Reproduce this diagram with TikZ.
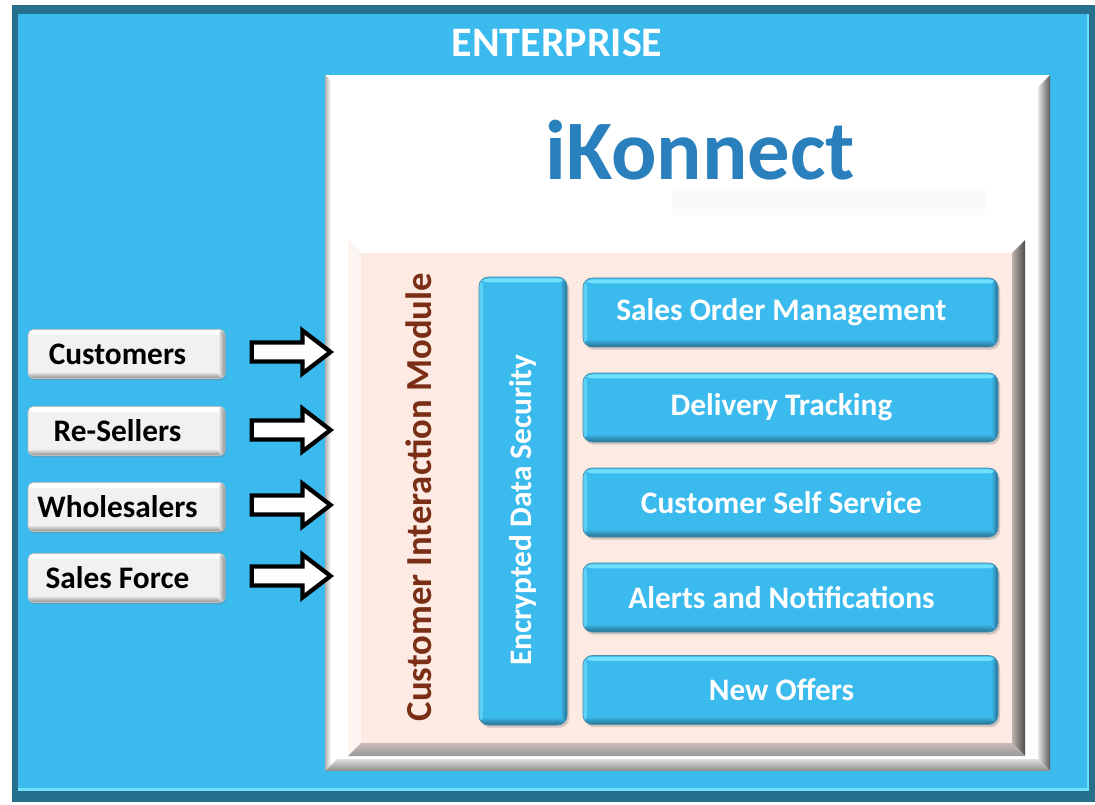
\documentclass[tikz,border=0pt]{standalone}
\usepackage{fontspec}
\setmainfont{Carlito}
\usetikzlibrary{shapes.arrows,shadows}

\definecolor{entblue}{RGB}{59,186,238}
\definecolor{entdark}{RGB}{38,112,142}
\definecolor{entlight}{RGB}{112,224,252}
\definecolor{konblue}{RGB}{42,128,189}
\definecolor{modpink}{RGB}{252,234,227}
\definecolor{modbrown}{RGB}{122,46,22}
\definecolor{btngray}{RGB}{243,241,239}

\tikzset{
  bodyfont/.style={font=\fontsize{23.5}{28}\selectfont\bfseries},
  leftpad/.style={execute at end node={\hspace*{13.5pt}}},
  modbox/.style={rectangle, rounded corners=7pt, fill=entblue, draw=entdark!80, line width=0.5pt,
    text=white, bodyfont, inner sep=0pt,
    drop shadow={shadow xshift=1.5pt, shadow yshift=-2pt, opacity=0.35},
    path picture={
      \fill[entlight] ([yshift=-1pt]path picture bounding box.north west) rectangle ([yshift=-4pt]path picture bounding box.north east);
      \fill[entlight!60!entblue] (path picture bounding box.north west) rectangle ([xshift=3pt]path picture bounding box.south west);
      \shade[top color=entblue, bottom color=entdark] ([yshift=6pt]path picture bounding box.south west) rectangle (path picture bounding box.south east);
      \shade[left color=entblue, right color=entdark] ([xshift=-5pt]path picture bounding box.north east) rectangle (path picture bounding box.south east);
    }},
  sidebtn/.style={rectangle, rounded corners=4pt, fill=btngray, draw=black!25, line width=0.4pt,
    text=black, bodyfont, inner sep=0pt, minimum width=147.75pt, minimum height=36.75pt, leftpad,
    drop shadow={shadow xshift=1pt, shadow yshift=-1.5pt, opacity=0.3},
    path picture={
      \fill[white] (path picture bounding box.north west) rectangle ([yshift=-4pt]path picture bounding box.north east);
      \shade[top color=btngray, bottom color=black!45] ([yshift=5pt]path picture bounding box.south west) rectangle (path picture bounding box.south east);
      \shade[left color=btngray, right color=black!45] ([xshift=-5pt]path picture bounding box.north east) rectangle (path picture bounding box.south east);
    }},
  blockarrow/.style={single arrow, draw=black, fill=white, line width=3.2pt, minimum height=59pt,
    minimum width=29pt, inner sep=0pt, inner ysep=5.5pt, single arrow head extend=9pt,
    single arrow tip angle=75}
}

\begin{document}
\begin{tikzpicture}[x=0.75pt,y=-0.75pt]
\useasboundingbox (0,0) rectangle (1095,805);

% enterprise frame
\fill[entdark] (12,5) rectangle (1095,802);
\fill[entlight] (18,14) rectangle (1089,791);
\fill[entblue] (18,14) rectangle (1087,788);

% iKonnect panel
\fill[white] (325,75) rectangle (1050,771);
\shade[left color=black!30, right color=white] (325,75) -- (331,81) -- (331,765) -- (325,771) -- cycle;
\shade[left color=black!10, right color=black!65] (1038,87) -- (1050,75) -- (1050,771) -- (1038,759) -- cycle;
\shade[top color=black!12, bottom color=black!45] (325,771) -- (337,759) -- (1038,759) -- (1050,771) -- cycle;
\fill[black!2] (672,188) rectangle (985,215);

% module panel
\fill[modpink] (348,240) rectangle (1025,756);
\fill[white] (348,240) -- (1025,240) -- (1012,253) -- (361,253) -- cycle;
\fill[modpink!50!white] (348,240) -- (361,253) -- (361,743) -- (348,756) -- cycle;
\shade[left color=modpink!75!black, right color=black!70] (1025,240) -- (1025,756) -- (1012,743) -- (1012,253) -- cycle;
\shade[top color=modpink!80!black, bottom color=black!40] (348,756) -- (361,743) -- (1012,743) -- (1025,756) -- cycle;

% titles
\node[text=white, font=\fontsize{31.5}{36}\selectfont\bfseries] (ent) at (557,43) {ENTERPRISE};
\node[text=konblue, font=\fontsize{63.5}{70}\selectfont\bfseries] (kon) at (700,150) {iKonnect};
\node[text=modbrown, rotate=90, font=\fontsize{27.5}{32}\selectfont\bfseries] (cim) at (419,497) {Customer Interaction Module};

% modules
\node[modbox, minimum width=66pt, minimum height=336pt] (enc) at (523,501) {\rotatebox{90}{Encrypted Data Security\hspace*{13.5pt}}};
\node[modbox, leftpad, minimum width=311.25pt, minimum height=51.75pt] (m1) at (790.5,312.5) {Sales Order Management};
\node[modbox, leftpad, minimum width=311.25pt, minimum height=51.75pt] (m2) at (790.5,407.5) {Delivery Tracking};
\node[modbox, leftpad, minimum width=311.25pt, minimum height=51.75pt] (m3) at (790.5,502.5) {Customer Self Service};
\node[modbox, leftpad, minimum width=311.25pt, minimum height=51.75pt] (m4) at (790.5,597.5) {Alerts and Notifications};
\node[modbox, leftpad, minimum width=311.25pt, minimum height=51.75pt] (m5) at (790.5,690) {New Offers};

% users
\node[sidebtn] (c1) at (126.5,354) {Customers};
\node[sidebtn] (c2) at (126.5,431) {Re-Sellers};
\node[sidebtn] (c3) at (126.5,507) {Wholesalers};
\node[sidebtn] (c4) at (126.5,578) {Sales Force};

\node[blockarrow] (a1) at (285,352) {};
\node[blockarrow] (a2) at (285,430) {};
\node[blockarrow] (a3) at (285,505) {};
\node[blockarrow] (a4) at (285,576) {};
\end{tikzpicture}
\end{document}
